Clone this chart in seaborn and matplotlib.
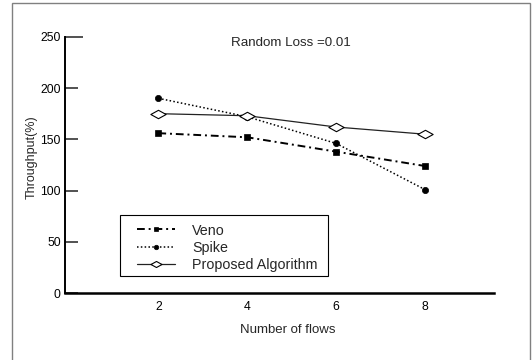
import matplotlib
matplotlib.use("Agg")
import matplotlib.pyplot as plt
import seaborn as sns
import numpy as np
from matplotlib.path import Path
from matplotlib.patches import Rectangle

flows = [2, 4, 6, 8]
veno = [156, 152, 138, 124]
spike = [190, 172, 146, 101]
proposed = [175, 173, 162, 155]
series_names = ["Veno", "Spike", "Proposed Algorithm"]
yticks = [0, 50, 100, 150, 200, 250]
xticks = [2, 4, 6, 8]

sns.set_style("white")
plt.rcParams["font.family"] = ["Liberation Sans", "DejaVu Sans"]

fig = plt.figure(figsize=(5.32, 3.6), dpi=100)
ax = fig.add_axes([65/532, 1-293.3/360, (494-65)/532, 256.6/360])

diamond = Path([(-1, 0), (0, 0.55), (1, 0), (0, -0.55), (-1, 0)],
               [Path.MOVETO, Path.LINETO, Path.LINETO, Path.LINETO, Path.CLOSEPOLY])

sns.lineplot(x=flows, y=veno, ax=ax, color="black", linestyle=(0, (4, 2, 1, 2)),
             linewidth=1.4, marker="s", markersize=5, markerfacecolor="black",
             markeredgecolor="black", markeredgewidth=0.5, errorbar=None,
             label=series_names[0])
sns.lineplot(x=flows, y=spike, ax=ax, color="black", linestyle=(0, (1, 1.5)),
             linewidth=1.1, marker="o", markersize=4.5, markerfacecolor="black",
             markeredgecolor="black", markeredgewidth=0.5, errorbar=None,
             label=series_names[1])
sns.lineplot(x=flows, y=proposed, ax=ax, color="#222222", linestyle="-",
             linewidth=0.9, marker=diamond, markersize=11, markerfacecolor="white",
             markeredgecolor="black", markeredgewidth=0.8, errorbar=None,
             label=series_names[2])

ax.set_xlim(-0.1, 9.55)
ax.set_ylim(0, 250)
ax.set_xticks(xticks)
ax.set_yticks(yticks)
ax.tick_params(axis="y", left=True, direction="in", length=9.4, width=1.2, pad=3.1,
               labelsize=8.8, colors="#333333", labelcolor="black")
ax.tick_params(axis="x", bottom=False, length=0, pad=5.5, labelsize=8.8, colors="black")
# top tick is drawn a bit longer in the original
ax.yaxis.get_major_ticks()[-1].tick1line.set_markersize(12.7)

for s in ["top", "right"]:
    ax.spines[s].set_visible(False)
ax.spines["left"].set_linewidth(1.4)
ax.spines["bottom"].set_linewidth(1.8)
ax.spines["left"].set_color("black")
ax.spines["bottom"].set_color("black")

ax.set_xlabel("Number of flows", fontsize=9.5)
ax.set_ylabel("Throughput(%)", fontsize=9)
ax.xaxis.set_label_coords(0.52, -0.118)
ax.yaxis.set_label_coords(-0.063, 0.532)

ax.text(0.526, 0.977, "Random Loss =0.01", transform=ax.transAxes,
        ha="center", va="center", fontsize=9.6)

leg = ax.legend(loc="upper left", bbox_to_anchor=(0.167, 0.272), borderaxespad=0,
                fontsize=10.3, handlelength=2.66, handletextpad=1.2, labelspacing=0.24,
                borderpad=0, frameon=False, markerscale=0.72)
ax.add_patch(Rectangle((0.1282, 0.0674), 0.4856, 0.2377, transform=ax.transAxes,
                       fill=True, facecolor="white", edgecolor="black",
                       linewidth=0.8, zorder=4))
leg.set_zorder(5)

fig.patches.append(Rectangle((12/532, -0.05), (530-12)/532, 1.05-3/360,
                             transform=fig.transFigure, fill=False,
                             edgecolor="#808080", linewidth=1.0, zorder=0))

fig.savefig("out.png", dpi=100)
